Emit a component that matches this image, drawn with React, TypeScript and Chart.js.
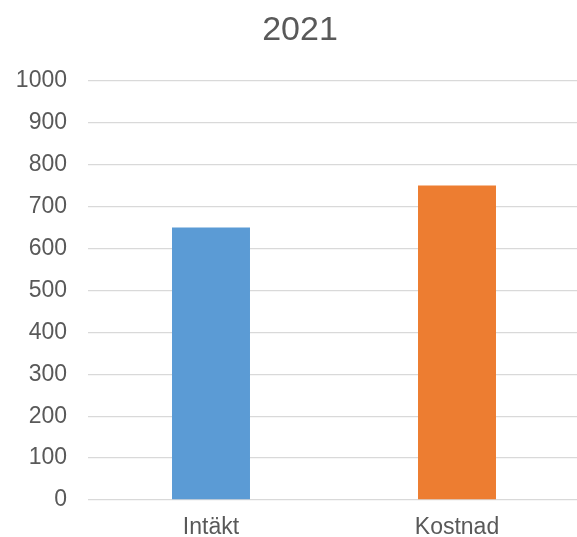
import React, { useEffect, useRef } from "react";
import { Chart, registerables } from "chart.js";

Chart.register(...registerables);

const categories = ["Intäkt", "Kostnad"];
const values = [650, 750];
const barColors = ["#5B9BD5", "#ED7D31"];
const titleText = "2021";

export default function App() {
  const ref = useRef<HTMLCanvasElement | null>(null);

  useEffect(() => {
    document.body.style.margin = "0";
    document.body.style.overflow = "hidden";
    if (!ref.current) return;
    const font = "'Liberation Sans', Arial, sans-serif";
    const titleSize = 34;
    const titleTop = 10;
    const titleDraw = {
      id: "titleDraw",
      afterDraw(chart: any) {
        const ctx = chart.ctx;
        ctx.save();
        ctx.fillStyle = "#595959";
        ctx.font = `normal ${titleSize}px ${font}`;
        ctx.textAlign = "center";
        ctx.textBaseline = "middle";
        const x = (20 + chart.width) / 2;
        const y = titleTop + (titleSize * 1.2) / 2;
        ctx.fillText(titleText, x, y);
        ctx.restore();
      },
    };
    const chart = new Chart(ref.current, {
      type: "bar",
      data: {
        labels: categories,
        datasets: [
          {
            data: values,
            backgroundColor: barColors,
            borderWidth: 0,
            barPercentage: 0.317,
            categoryPercentage: 1,
          },
        ],
      },
      options: {
        animation: false,
        responsive: true,
        maintainAspectRatio: false,
        layout: { padding: 0 },
        plugins: {
          legend: { display: false },
          tooltip: { enabled: false },
          title: {
            display: true,
            text: titleText,
            color: "rgba(0,0,0,0)",
            font: { family: font, size: titleSize, weight: "normal" },
            padding: { top: titleTop, bottom: 30 },
          },
        },
        scales: {
          x: {
            grid: { display: false, drawTicks: false },
            border: { display: false },
            ticks: {
              color: "#595959",
              font: { family: font, size: 23 },
              padding: 14,
            },
            afterFit: (s: any) => {
              s.height = 37;
            },
          },
          y: {
            min: 0,
            max: 1000,
            ticks: {
              stepSize: 100,
              color: "#595959",
              font: { family: font, size: 23 },
              padding: 21,
              callback: (v: any) => String(v),
            },
            grid: { color: "#D9D9D9", lineWidth: 1.3, drawTicks: false },
            border: { display: false },
            afterFit: (s: any) => {
              s.width = 88;
            },
          },
        },
      },
      plugins: [titleDraw],
    });
    return () => chart.destroy();
  }, []);

  return (
    <div style={{ width: "577px", height: "537px", overflow: "hidden" }}>
      <div style={{ width: "580px", height: "537px", position: "relative" }}>
        <canvas ref={ref} />
      </div>
    </div>
  );
}
